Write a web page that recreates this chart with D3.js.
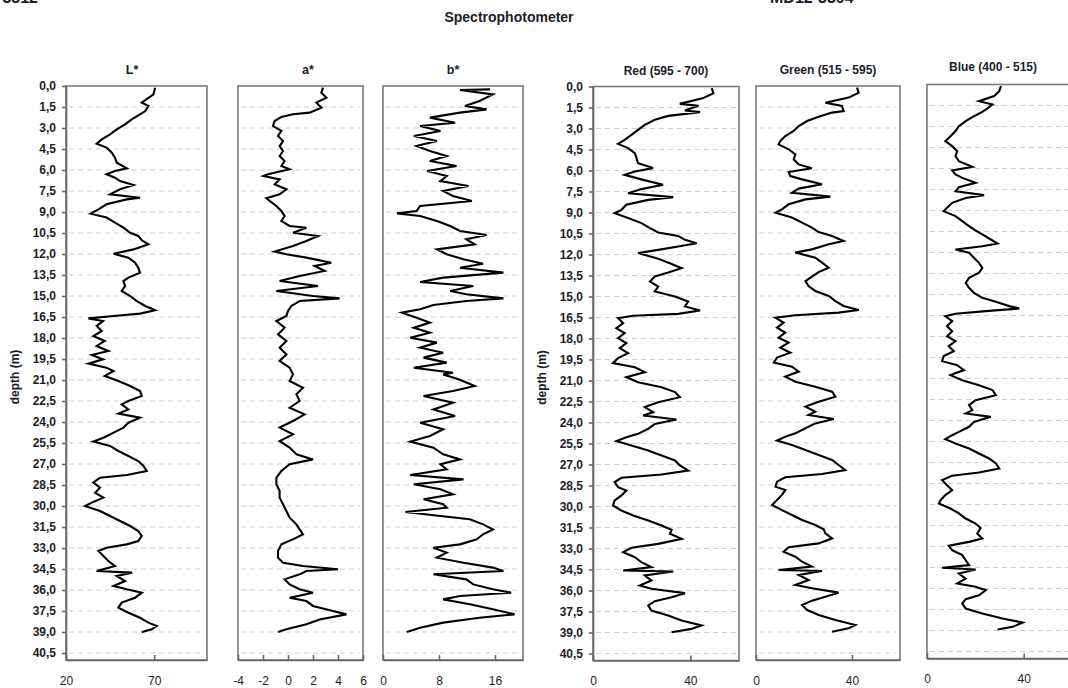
<!DOCTYPE html>
<html>
<head>
<meta charset="utf-8">
<script src="https://cdn.jsdelivr.net/npm/d3@7"></script>
<style>
	body { margin: 0; background: #fff; }
	svg text { font-family: "Liberation Sans", Arial, sans-serif; fill: #1c1c2a; }
	.grid_line { stroke: #cfcfcf; stroke-width: 1; stroke-dasharray: 5,4; }
	.frame { fill: none; stroke: #7a7a7a; stroke-width: 1.6; }
	.axis path, .axis line { stroke: #666; stroke-width: 1.6; }
	.curve { fill: none; stroke: #000; stroke-width: 2.1; stroke-linejoin: miter; }
</style>
</head>
<body>
<svg id="chart" width="1068" height="688"></svg>
<script>

// depth (m) / value pairs
const lStar = [[0.12,70.6],[0.6,69.6],[1.19,63],[1.43,66.8],[1.79,65],[2.02,62],[2.38,57.3],[2.74,53.5],[3.1,48.8],[3.45,45],[3.81,40.3],[4.12,37.4],[4.4,43],[4.76,46],[5.12,47.8],[5.48,48.8],[5.88,54.5],[6.07,47.8],[6.31,43],[6.55,47.8],[6.79,50.7],[7.07,58.3],[7.38,50.7],[7.74,45],[7.98,62],[8.1,54.5],[8.45,43],[8.81,38.4],[9.12,34],[9.4,43],[9.76,47.8],[10.12,52.6],[10.48,56.4],[10.71,61],[11.02,63],[11.31,66.8],[11.67,58.3],[11.98,47],[12.26,55.4],[12.62,59.2],[12.98,61],[13.33,62],[13.69,55.4],[13.93,52.6],[14.29,53.5],[14.64,51.6],[15.0,56.4],[15.36,60.2],[15.71,65],[16.02,70.6],[16.26,62],[16.43,47],[16.6,32.7],[16.79,41],[17.14,37.4],[17.5,40.3],[17.86,35.5],[18.21,42],[18.57,37.4],[18.93,44],[19.21,34.6],[19.52,41],[19.83,32.7],[20.12,43],[20.36,47],[20.71,42],[21.07,49.7],[21.43,56.4],[21.79,62],[22.14,63],[22.5,55.4],[22.74,51.6],[23.1,55.4],[23.4,49.7],[23.69,62],[24.05,55.4],[24.4,52.6],[24.76,47],[25.12,41.2],[25.4,35.5],[25.71,45],[26.07,49.7],[26.43,55.4],[26.79,61],[27.14,64],[27.5,65.8],[27.79,54.5],[27.98,39.3],[28.33,35.5],[28.69,39.3],[29.05,36.5],[29.4,41.2],[29.76,34.6],[30.0,30.8],[30.36,39.3],[30.71,45],[31.07,50.7],[31.43,56.4],[31.79,61],[32.14,63],[32.5,61],[32.74,54.5],[32.98,43],[33.21,38.4],[33.57,41.2],[33.93,44],[34.29,47.8],[34.64,37.4],[34.76,57.5],[35.0,48.8],[35.36,53.5],[35.71,47],[35.95,54.5],[36.19,63],[36.55,59.2],[36.9,51.6],[37.26,49.7],[37.62,55.4],[37.98,62],[38.33,66.8],[38.57,71.5],[38.81,68.7],[39.0,63]];

const aStar = [[0.12,2.8],[0.48,2.67],[0.83,3.07],[1.19,2.27],[1.55,2.67],[1.9,1.73],[2.02,0.4],[2.21,-0.53],[2.5,-1.07],[2.86,-1.2],[3.21,-0.53],[3.57,-0.8],[3.93,-0.4],[4.29,-0.67],[4.64,-0.4],[5.0,-0.67],[5.36,-0.27],[5.71,-0.53],[5.95,0.13],[6.31,-1.6],[6.43,-1.95],[6.67,-0.67],[7.02,-1.07],[7.38,-0.13],[7.74,-0.67],[8.02,-1.73],[8.21,-1.47],[8.57,-0.93],[8.93,-0.53],[9.29,-0.27],[9.64,-0.53],[10.0,0.13],[10.12,1.47],[10.48,0.4],[10.71,2.4],[11.07,1.47],[11.43,0.4],[11.83,-1.07],[12.02,-0.13],[12.26,1.47],[12.62,3.47],[12.86,2.13],[13.21,2.93],[13.57,0.93],[13.93,-0.67],[14.29,2.4],[14.64,-0.93],[15.0,2.0],[15.17,4.13],[15.36,0.93],[15.71,0.27],[16.07,0],[16.43,-0.13],[16.79,-0.93],[17.26,-0.27],[17.74,-0.8],[18.21,-0.13],[18.69,-0.67],[19.17,-0.13],[19.64,-0.67],[20.12,0.13],[20.6,0.4],[21.07,0.13],[21.55,1.2],[22.02,0.67],[22.5,0.93],[22.98,0.13],[23.45,1.33],[23.93,0.4],[24.4,-0.67],[24.88,0.4],[25.36,-0.67],[25.83,0.13],[26.31,0.67],[26.67,2.0],[27.02,0.13],[27.5,-0.53],[27.98,-0.93],[28.45,-0.93],[28.93,-0.67],[29.4,-0.67],[29.88,-0.4],[30.36,-0.13],[30.83,0.13],[31.31,0.67],[31.67,0.93],[32.02,1.2],[32.38,0.4],[32.74,-0.53],[33.21,-0.8],[33.69,-0.8],[34.05,-0.4],[34.29,1.2],[34.52,4.0],[34.64,1.47],[34.88,0.93],[35.24,-0.27],[35.6,0.13],[35.95,0.93],[36.19,2.0],[36.55,0.13],[36.79,1.47],[37.14,2.0],[37.5,3.6],[37.74,4.67],[38.1,2.53],[38.45,1.47],[38.81,-0.13],[39.0,-0.8]];

const bStar = [[0.24,15.3],[0.29,11],[0.6,15.7],[1.07,13.8],[1.43,11.7],[1.67,14.8],[1.9,11],[2.26,6.7],[2.62,10.3],[2.86,5.3],[3.21,8.2],[3.57,4.4],[3.93,7.7],[4.29,4.8],[4.64,6.7],[5.0,9.1],[5.36,6.7],[5.71,10.5],[6.07,6.3],[6.43,9.1],[6.79,8.2],[7.14,12.2],[7.5,8.6],[7.86,10.0],[8.21,12.7],[8.57,5.3],[8.93,4.8],[9.1,2.0],[9.29,5.3],[9.64,7.7],[10.0,9.6],[10.36,11.0],[10.64,14.8],[10.95,11.9],[11.31,13.1],[11.67,7.7],[12.02,9.1],[12.38,11.5],[12.69,14.3],[12.98,11.0],[13.33,17.2],[13.69,8.6],[14.0,5.3],[14.29,12.9],[14.64,9.6],[14.88,11.9],[15.17,17.2],[15.36,11.9],[15.64,7.2],[15.95,5.3],[16.19,2.7],[16.55,4.8],[16.9,6.7],[17.26,4.4],[17.62,6.7],[17.98,3.9],[18.33,7.7],[18.69,5.3],[19.05,8.6],[19.4,5.8],[19.76,9.1],[20.12,4.4],[20.48,10.0],[20.6,8.6],[20.95,10.8],[21.43,13.1],[21.79,10.0],[22.14,5.8],[22.62,10.0],[23.1,7.2],[23.57,10.3],[24.05,5.3],[24.52,8.6],[25.0,6.7],[25.4,3.9],[25.83,7.2],[26.31,8.6],[26.67,11.0],[27.02,8.2],[27.38,9.1],[27.79,3.9],[28.1,11.5],[28.45,4.4],[28.81,8.2],[29.17,10.0],[29.52,5.8],[29.88,8.6],[30.12,9.1],[30.43,3.2],[30.71,8.2],[30.95,12.4],[31.31,14.3],[31.67,15.7],[32.02,14.3],[32.38,13.4],[32.74,11.0],[32.98,7.2],[33.33,9.1],[33.69,7.7],[34.05,11.5],[34.4,15.7],[34.64,17.2],[34.88,7.2],[35.24,11.9],[35.6,12.9],[35.95,15.7],[36.19,18.3],[36.43,11.0],[36.67,8.6],[37.02,12.4],[37.38,15.7],[37.74,18.8],[37.98,13.8],[38.33,8.6],[38.69,5.3],[39.0,3.4]];

const red = [[0.12,48.8],[0.48,49.5],[0.83,45.3],[1.24,35.7],[1.38,43.3],[1.71,37.8],[1.83,44],[2.1,30.9],[2.38,25.4],[2.74,21.3],[3.1,18.5],[3.45,15.8],[3.81,13.0],[4.1,10.3],[4.4,14.4],[4.76,17.2],[5.12,17.9],[5.48,18.5],[5.83,24.7],[6.07,17.2],[6.31,13.0],[6.67,20.6],[7.02,28.8],[7.33,19.9],[7.62,14.4],[7.9,33.0],[8.1,22.7],[8.45,13.7],[8.81,11.7],[9.05,8.9],[9.4,14.4],[9.76,19.9],[10.12,23.4],[10.43,26.8],[10.67,35],[10.95,37.8],[11.19,42.6],[11.43,35],[11.67,26.8],[11.9,18.5],[12.26,26.1],[12.62,31.6],[12.98,36.4],[13.29,30.9],[13.57,25.4],[13.93,23.4],[14.29,26.8],[14.64,25.4],[15.0,33.7],[15.36,39.1],[15.71,37.8],[16.0,44],[16.24,35],[16.38,16.5],[16.55,10.3],[16.9,12.4],[17.26,9.6],[17.62,13.0],[17.98,10.3],[18.33,13.7],[18.69,11.0],[19.05,14.4],[19.4,10.3],[19.76,8.2],[20.05,17.2],[20.4,21.3],[20.76,13.7],[21.12,18.5],[21.48,28.2],[21.83,33.7],[22.19,35.7],[22.55,26.8],[22.9,21.3],[23.26,24.7],[23.5,20.6],[23.79,34.3],[24.1,25.4],[24.45,22.7],[24.81,18.5],[25.05,13.7],[25.33,9.6],[25.64,15.8],[26.0,22.7],[26.36,28.2],[26.71,33.7],[27.07,35.7],[27.43,39.1],[27.71,28.2],[27.95,11.7],[28.26,8.9],[28.62,10.3],[28.86,13.7],[29.21,11.7],[29.57,8.9],[29.93,8.2],[30.29,11.7],[30.64,16.5],[31.0,22.7],[31.36,28.2],[31.67,32.3],[31.95,31.6],[32.31,36.4],[32.67,26.8],[32.95,15.8],[33.26,12.4],[33.62,17.2],[33.98,19.9],[34.33,24.0],[34.57,12.4],[34.64,33.0],[34.93,21.3],[35.29,24.0],[35.64,19.2],[35.88,24.0],[36.19,37.8],[36.48,32.3],[36.76,25.4],[37.07,22.7],[37.43,24.0],[37.79,30.9],[38.14,36.4],[38.5,44.6],[38.74,40.5],[38.98,32.3]];

const green = [[0.12,42.1],[0.48,42.8],[0.83,38.6],[1.19,28.9],[1.43,35.8],[1.79,36.5],[1.9,31.7],[2.19,26.1],[2.5,21.3],[2.86,17.8],[3.21,15.7],[3.57,12.2],[3.93,10.1],[4.17,9.4],[4.52,13.6],[4.88,16.4],[5.24,15.7],[5.6,17.8],[5.88,23.3],[6.14,13.6],[6.43,14.3],[6.67,19.2],[7.02,27.5],[7.33,17.8],[7.62,15.0],[7.9,31.0],[8.1,20.6],[8.45,13.6],[8.81,10.8],[9.05,8.1],[9.4,15.0],[9.76,19.2],[10.12,23.3],[10.43,26.1],[10.71,31.7],[11.07,36.5],[11.31,30.3],[11.67,23.3],[11.9,16.4],[12.26,24.7],[12.62,27.5],[12.98,30.3],[13.29,26.1],[13.62,23.3],[13.93,20.6],[14.29,21.9],[14.64,24.7],[15.0,30.3],[15.36,33.1],[15.71,36.5],[16.0,42.8],[16.19,34.4],[16.38,16.4],[16.55,8.1],[16.9,11.5],[17.26,8.75],[17.62,12.2],[17.98,9.4],[18.33,13.6],[18.69,10.1],[19.05,14.3],[19.4,8.75],[19.76,7.4],[20.05,15.0],[20.4,17.8],[20.76,12.2],[21.12,16.4],[21.48,24.7],[21.83,31.7],[22.19,33.1],[22.55,26.1],[22.9,20.6],[23.26,24.7],[23.5,21.9],[23.79,32.4],[24.1,24.7],[24.45,20.6],[24.81,16.4],[25.05,12.2],[25.33,8.75],[25.64,15.0],[26.0,20.6],[26.36,26.1],[26.71,31.7],[27.07,34.4],[27.43,37.2],[27.71,27.5],[27.95,12.2],[28.26,8.75],[28.62,8.1],[28.86,12.2],[29.21,10.8],[29.57,8.75],[29.93,6.7],[30.29,10.8],[30.64,15.0],[31.0,19.2],[31.36,24.7],[31.67,28.2],[31.95,28.9],[32.31,31.7],[32.67,26.1],[32.95,13.6],[33.26,11.5],[33.62,16.4],[33.98,19.2],[34.33,23.3],[34.57,9.4],[34.64,27.5],[34.93,17.8],[35.29,21.9],[35.64,16.4],[35.88,23.3],[36.19,34.4],[36.48,28.9],[36.76,23.3],[37.07,19.2],[37.43,21.3],[37.79,26.1],[38.14,33.1],[38.5,41.4],[38.74,38.6],[38.98,31.7]];

const blue = [[0.12,30.6],[0.48,29.9],[0.83,27.8],[1.19,21.5],[1.43,27.1],[1.79,24.3],[2.02,22.2],[2.33,18.75],[2.62,16.0],[2.98,13.2],[3.33,11.8],[3.69,9.7],[4.05,7.6],[4.4,10.4],[4.76,12.5],[5.12,11.8],[5.48,13.2],[5.88,18.75],[6.14,10.4],[6.43,11.8],[6.67,14.6],[7.02,20.1],[7.33,13.2],[7.62,11.8],[7.9,23.6],[8.1,16.0],[8.45,10.4],[8.81,8.3],[9.05,6.9],[9.4,11.8],[9.76,14.6],[10.12,17.4],[10.43,20.1],[10.71,22.9],[11.07,26.4],[11.36,29.2],[11.55,22.9],[11.79,11.8],[12.02,17.4],[12.38,19.4],[12.74,21.5],[13.1,22.9],[13.45,21.5],[13.81,17.4],[14.17,16.0],[14.52,17.4],[14.88,19.4],[15.24,22.9],[15.52,28.5],[15.83,34.0],[16.0,38.2],[16.19,24.3],[16.38,11.8],[16.55,7.6],[16.9,10.4],[17.26,8.3],[17.62,10.4],[17.98,8.3],[18.33,11.8],[18.69,9.0],[19.05,11.1],[19.4,6.9],[19.76,6.25],[20.05,12.5],[20.4,15.3],[20.76,9.7],[21.12,14.6],[21.48,21.5],[21.83,27.1],[22.19,28.5],[22.55,20.1],[22.9,17.4],[23.26,18.75],[23.5,16.0],[23.74,26.4],[24.1,19.4],[24.45,17.4],[24.81,13.2],[25.05,10.4],[25.33,7.6],[25.64,11.8],[26.0,17.4],[26.36,21.5],[26.71,25.7],[27.07,28.5],[27.43,29.9],[27.71,21.5],[27.95,10.4],[28.26,6.25],[28.62,8.3],[28.98,10.4],[29.33,7.6],[29.69,5.6],[29.93,4.9],[30.29,9.7],[30.64,13.2],[31.0,16.0],[31.36,20.1],[31.67,22.2],[32.07,20.8],[32.43,22.9],[32.67,17.4],[32.95,9.0],[33.26,10.4],[33.62,14.6],[33.98,16.0],[34.33,17.4],[34.52,6.25],[34.64,20.1],[34.93,13.2],[35.29,16.0],[35.64,12.5],[35.88,20.1],[36.12,24.3],[36.48,21.5],[36.76,16.0],[37.07,14.6],[37.43,16.0],[37.79,22.9],[38.14,31.25],[38.43,39.6],[38.74,35.4],[38.93,29.2]];

// panel titles and x tick labels
const panelTitles = ["L*", "a*", "b*", "Red (595 - 700)", "Green (515 - 595)", "Blue (400 - 515)"];
const xTicks = [[20, 70], [-4, -2, 0, 2, 4, 6], [0, 8, 16], [0, 40], [0, 40], [0, 40]];
const xDomains = [[20, 100], [-4, 6], [0, 20], [0, 60], [0, 60], [0, 60]];
const depthTicks = d3.range(0, 41, 1.5);
const depthMax = 41;

const svg = d3.select("#chart");

// layout of each panel on the page
const panels = [
	{data: lStar, x0: 66,  x1: 207,  titleX: 132, depthAxis: true,  dy: 0},
	{data: aStar, x0: 238, x1: 363,  titleX: 308, depthAxis: false, dy: 0},
	{data: bStar, x0: 383, x1: 523,  titleX: 453, depthAxis: false, dy: 0},
	{data: red,   x0: 593, x1: 739,  titleX: 666, depthAxis: true,  dy: 0.5},
	{data: green, x0: 756, x1: 900,  titleX: 828, depthAxis: false, dy: 0},
	{data: blue,  x0: 927, x1: 1072, titleX: 993, depthAxis: false, dy: -1.5}
];

// cropped headers at the top edge
svg.append("text")
	.attr("x", 38).attr("y", 3)
	.attr("text-anchor", "end")
	.style("font-size", "16px").style("font-weight", "bold")
	.text("MD12-3312");
svg.append("text")
	.attr("x", 770).attr("y", 3)
	.style("font-size", "16px").style("font-weight", "bold")
	.text("MD12-3394");

// main title
svg.append("text")
	.attr("x", 509).attr("y", 22)
	.attr("text-anchor", "middle")
	.style("font-size", "14px").style("font-weight", "bold")
	.text("Spectrophotometer");

const fmtDepth = d => d.toFixed(1).replace(".", ",");

panels.forEach((p, i) => {
	let top = 86 + p.dy, bottom = 660 + p.dy;

	let y_scale = d3.scaleLinear().domain([0, depthMax]).range([top, bottom]);
	let x_scale = d3.scaleLinear().domain(xDomains[i]).range([p.x0, p.x1]);

	let g = svg.append("g");

	//dashed gridlines
	g.selectAll(".grid_line")
		.data(depthTicks.filter(d => d > 0))
		.enter()
		.append("line")
		.attr("class", "grid_line")
		.attr("x1", p.x0 + 3).attr("x2", p.x1 - 3)
		.attr("y1", d => y_scale(d)).attr("y2", d => y_scale(d));

	//frame
	g.append("rect")
		.attr("class", "frame")
		.attr("x", p.x0).attr("y", top)
		.attr("width", p.x1 - p.x0).attr("height", bottom - top);

	//curve
	let line = d3.line()
		.x(d => x_scale(d[1]))
		.y(d => y_scale(d[0]));

	g.append("path")
		.datum(p.data)
		.attr("class", "curve")
		.attr("d", line);

	//x axis at the bottom, ticks pointing in
	let x_axis = d3.axisBottom(x_scale)
		.tickValues(xTicks[i])
		.tickSize(-5)
		.tickPadding(16)
		.tickSizeOuter(0)
		.tickFormat(d => String(d));

	g.append("g")
		.attr("class", "axis")
		.attr("transform", "translate(0," + bottom + ")")
		.call(x_axis)
		.selectAll("text")
		.style("font-size", "12px");

	//depth axis
	if (p.depthAxis) {
		let y_axis = d3.axisLeft(y_scale)
			.tickValues(depthTicks)
			.tickSize(4)
			.tickPadding(6)
			.tickSizeOuter(0)
			.tickFormat(fmtDepth);

		g.append("g")
			.attr("class", "axis")
			.attr("transform", "translate(" + p.x0 + ",0)")
			.call(y_axis)
			.selectAll("text")
			.style("font-size", "12px")
			.style("font-weight", "bold");

		g.append("text")
			.attr("transform", "translate(" + (p.x0 - 47) + "," + ((top + bottom) / 2 + 4) + ") rotate(-90)")
			.attr("text-anchor", "middle")
			.style("font-size", "12px").style("font-weight", "bold")
			.text("depth (m)");
	}

	//panel title
	g.append("text")
		.attr("x", p.titleX).attr("y", top - 12 + (i === 5 ? -2 : 0))
		.attr("text-anchor", "middle")
		.style("font-size", i < 3 ? "12.5px" : "12px").style("font-weight", "bold")
		.text(panelTitles[i]);
});

</script>
</body>
</html>
